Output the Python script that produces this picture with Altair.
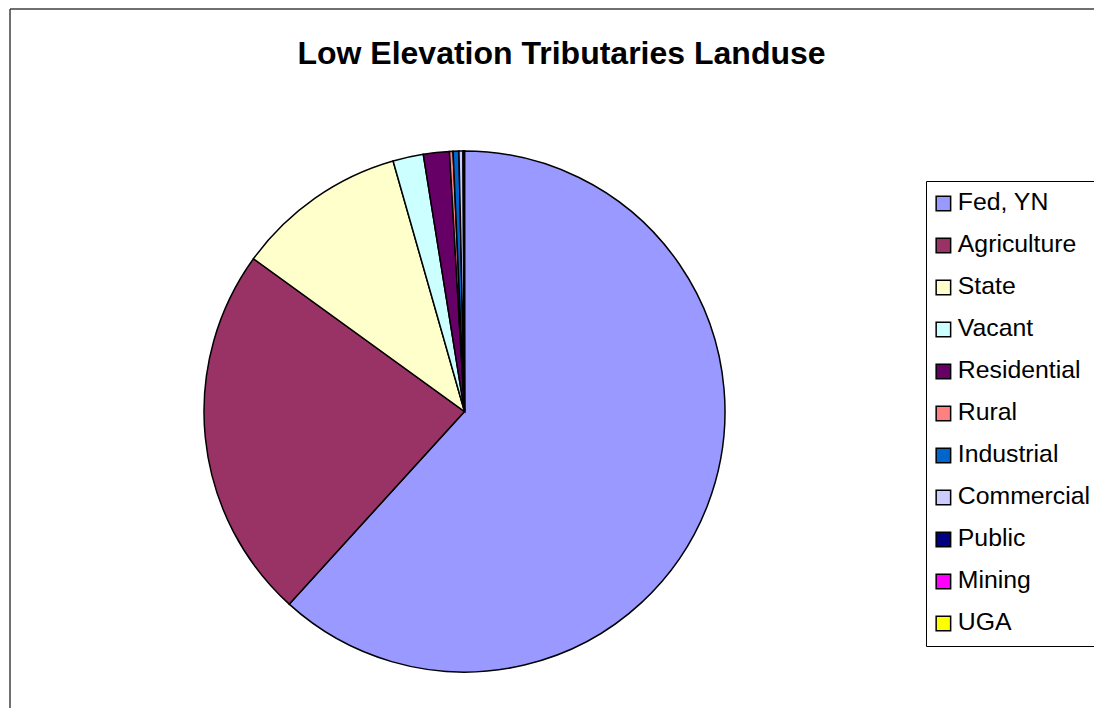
import altair as alt
import pandas as pd

categories = ["Fed, YN", "Agriculture", "State", "Vacant", "Residential", "Rural",
              "Industrial", "Commercial", "Public", "Mining", "UGA"]
percent = [61.75, 23.22, 10.61, 1.89, 1.61, 0.22, 0.36, 0.25, 0.04, 0.03, 0.02]
colors = ["#9999FF", "#993366", "#FFFFCC", "#CCFFFF", "#660066", "#FF8080",
          "#0066CC", "#CCCCFF", "#000080", "#FF00FF", "#FFFF00"]
title_text = "Low Elevation Tributaries Landuse"

W, H = 1086, 700
df = pd.DataFrame({"Landuse": categories, "Percent": percent, "idx": list(range(len(categories)))})

pie = alt.Chart(df).mark_arc(radius=260.5, stroke="black", strokeWidth=1.5).encode(
    theta=alt.Theta("Percent:Q", stack=True),
    order=alt.Order("idx:Q", sort="ascending"),
    x=alt.value(456.5),
    y=alt.value(403.5),
    color=alt.Color(
        "Landuse:N",
        scale=alt.Scale(domain=categories, range=colors),
        sort=categories,
        legend=alt.Legend(
            title=None,
            orient="none",
            legendX=918,
            legendY=173,
            symbolType="square",
            symbolSize=210,
            symbolOffset=-5,
            symbolStrokeColor="black",
            symbolStrokeWidth=1.5,
            labelFont="Liberation Sans",
            labelFontSize=24.8,
            labelColor="black",
            labelOffset=2,
            labelLimit=400,
            rowPadding=16,
            padding=10,
            strokeColor="black",
            fillColor="white",
            cornerRadius=0,
        ),
    ),
)

title_df = pd.DataFrame({"t": [title_text]})
title = alt.Chart(title_df).mark_text(
    font="Liberation Sans", fontSize=32, fontWeight="bold", color="black",
    align="center", baseline="middle"
).encode(text="t:N", x=alt.value(553.5), y=alt.value(46))

border_df = pd.DataFrame({"b": [0]})
left_border = alt.Chart(border_df).mark_rule(color="#404040", strokeWidth=1.5).encode(
    x=alt.value(2), y=alt.value(1), y2=alt.value(H)
)
top_border = alt.Chart(border_df).mark_rule(color="#404040", strokeWidth=1.5).encode(
    x=alt.value(2), x2=alt.value(W), y=alt.value(1)
)

chart = alt.layer(left_border, top_border, pie, title).properties(
    width=W, height=H, padding=0, autosize=alt.AutoSizeParams(type="none"),
    background="white",
).configure_view(stroke=None)

chart.save("out.html", embed_options={"renderer": "svg", "actions": False})
